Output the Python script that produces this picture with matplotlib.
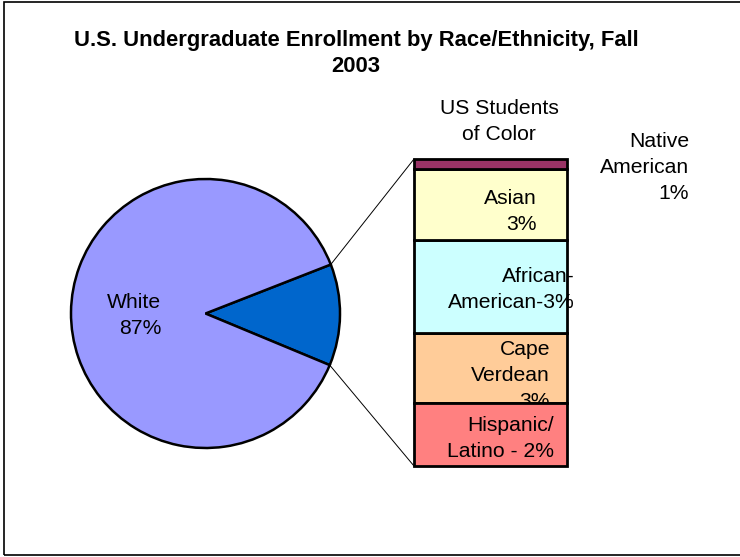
import matplotlib
matplotlib.use("Agg")
import matplotlib.pyplot as plt
from matplotlib.patches import ConnectionPatch, Rectangle
import numpy as np

plt.rcParams['font.family'] = ['Liberation Sans', 'DejaVu Sans']

# ---- data ----
title = "U.S. Undergraduate Enrollment by Race/Ethnicity, Fall\n2003"
pie_labels = ["Students of Color", "White"]
white_share = 87.8
bar_categories = ["Hispanic/Latino", "Cape Verdean", "African-American", "Asian", "Native American"]
bar_values = [2.5, 2.8, 3.7, 2.8, 0.4]
bar_texts = ["Hispanic/\nLatino - 2%", "Cape\nVerdean\n3%", "African-\nAmerican-3%", "Asian\n3%", "Native\nAmerican\n1%"]
white_text = "White\n87%"
bar_title = "US Students\nof Color"

pie_colors = ["#0066CC", "#9999FF"]
bar_colors = ["#FF8080", "#FFCC99", "#CCFFFF", "#FFFFCC", "#993366"]

W, H = 740, 557
fig = plt.figure(figsize=(W / 100, H / 100), dpi=100)


def fpos(x, y):
    return x / W, 1 - y / H


def frect(x0, y0, x1, y1):
    return [x0 / W, 1 - y1 / H, (x1 - x0) / W, (y1 - y0) / H]


# outer chart frame (right edge lies beyond the picture)
fig.patches.append(Rectangle(fpos(3.5, 555), (760 - 3.5) / W, (555 - 1.5) / H,
                             transform=fig.transFigure, fill=False,
                             edgecolor="black", linewidth=1.2))

fig.text(*fpos(356, 72), title, ha="center", va="baseline", fontsize=15.8,
         fontweight="bold", linespacing=1.30)

LFS = 15.2
LLS = 1.46

# ---- pie ----
ax1 = fig.add_axes(frect(71, 179, 340, 448))
others = sum(bar_values)
values = [others, white_share]
start = -others * 360 / 100 / 2 - 0.6
wedges, _ = ax1.pie(values, colors=pie_colors, startangle=start, counterclock=True,
                    radius=1, wedgeprops=dict(edgecolor="black", linewidth=1.8))
ax1.set_xlim(-1, 1)
ax1.set_ylim(-1, 1)
ax1.set_aspect("auto")
ax1.axis("off")

fig.text(*fpos(161, 334), white_text, ha="right", va="baseline", fontsize=LFS, linespacing=LLS)

# ---- stacked bar ----
ax2 = fig.add_axes(frect(414, 159, 567, 466))
bottom = 0
for i, (v, c) in enumerate(zip(bar_values, bar_colors)):
    z = 2 if i == 0 else 1
    ax2.bar(0, v, bottom=bottom, width=1.0, color=c, edgecolor="black",
            linewidth=2, clip_on=False, zorder=z)
    bottom += v
ax2.set_xlim(-0.5, 0.5)
ax2.set_ylim(0, bottom)
ax2.axis("off")

label_pos = [(554, 457, 3), (550, 407, 1.5), (575, 308, 3), (537, 230, 3), (689, 199, 3)]
for txt, (x, y, z) in zip(bar_texts, label_pos):
    ax2.text(*fpos(x, y), txt, transform=fig.transFigure, ha="right", va="baseline",
             fontsize=LFS, linespacing=LLS, zorder=z)

fig.text(*fpos(499, 140), bar_title, ha="center", va="baseline", fontsize=LFS, linespacing=LLS)

# ---- connector lines ----
w = wedges[0]
for theta, yb in [(w.theta2, bottom), (w.theta1, 0)]:
    ang = np.deg2rad(theta)
    con = ConnectionPatch(xyA=(-0.5, yb), coordsA=ax2.transData,
                          xyB=(np.cos(ang), np.sin(ang)), coordsB=ax1.transData,
                          color="black", linewidth=0.7)
    fig.add_artist(con)

fig.savefig("out.png", dpi=100, facecolor="white")
